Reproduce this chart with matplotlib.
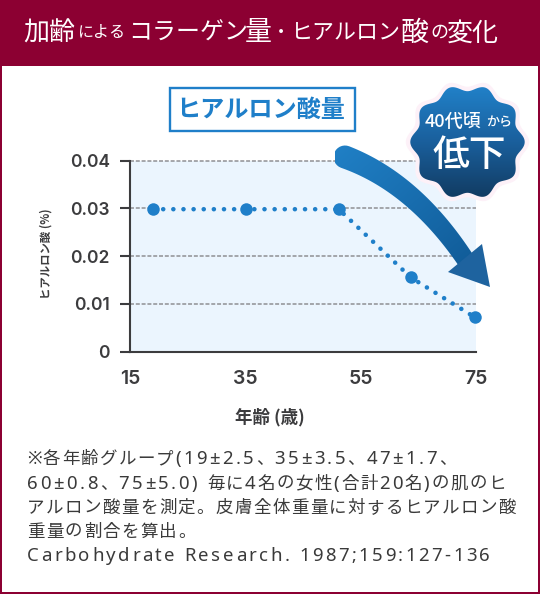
import numpy as np
import matplotlib
matplotlib.use('Agg')
import matplotlib.pyplot as plt
from matplotlib.patches import Polygon, Rectangle
from matplotlib.colors import LinearSegmentedColormap

plt.rcParams['font.family'] = ['Noto Sans CJK JP', 'DejaVu Sans']

# data
ages = [19.0, 35.2, 51.2, 63.7, 74.75]
hyaluronic = [0.0298, 0.0298, 0.0298, 0.0155, 0.0072]
x_ticks = [15, 35, 55, 75]
y_ticks = [0, 0.01, 0.02, 0.03, 0.04]
y_tick_labels = ['0', '0.01', '0.02', '0.03', '0.04']

title_parts = [('加齢', 23, 26), ('による', 77, 16), ('コラーゲン', 128, 24), ('量', 245, 27),
               ('・', 272, 18), ('ヒアルロン', 290, 22), ('酸', 401, 28), ('の', 430, 18), ('変化', 447, 26)]
note_lines = ['※各年齢グループ(19±2.5、35±3.5、47±1.7、',
              '60±0.8、75±5.0) 毎に4名の女性(合計20名)の肌のヒ',
              'アルロン酸量を測定。皮膚全体重量に対するヒアルロン酸',
              '重量の割合を算出。',
              'Carbohydrate Research. 1987;159:127-136']
note_y = [457, 482, 506, 530, 554]

W, H = 540, 594
RED = '#8c0032'
BLUE = '#1f7fc9'
DARK = '#3c3c3e'
GRID = '#8f9094'
GRID_LS = (0, (2.6, 1.2))

fig = plt.figure(figsize=(W / 100, H / 100), dpi=100, facecolor='white')

# main chart, placed in pixels
L, R, T, B = 130, 476, 160.5, 351.5
ax = fig.add_axes([L / W, 1 - B / H, (R - L) / W, (B - T) / H], facecolor='#ebf5fe')
ax.set_xlim(15, 75)
ax.set_ylim(0, 0.04)
for s in ['top', 'right']:
    ax.spines[s].set_visible(False)
for s in ['left', 'bottom']:
    ax.spines[s].set_linewidth(1.5)
    ax.spines[s].set_color(DARK)
ax.set_xticks(x_ticks)
ax.set_yticks(y_ticks)
ax.set_yticklabels(y_tick_labels)
ax.tick_params(axis='y', length=7.5, width=1.5, color=DARK, pad=7, labelcolor=DARK)
ax.tick_params(axis='x', length=0, pad=13, labelcolor=DARK)
for lab in ax.get_yticklabels():
    lab.set_family(['Inter', 'DejaVu Sans'])
    lab.set_fontsize(12.5)
    lab.set_fontweight('semibold')
for lab in ax.get_xticklabels():
    lab.set_family(['Inter', 'DejaVu Sans'])
    lab.set_fontsize(14)
    lab.set_fontweight('semibold')

# the 0.03 line stops where the dotted series runs along it
for tick_y in [0.04, 0.02, 0.01]:
    ax.plot([15, 75], [tick_y, tick_y], color=GRID, lw=1.1, ls=GRID_LS, zorder=1, clip_on=False)
ax.plot([15, ages[0]], [0.03, 0.03], color=GRID, lw=1.1, ls=GRID_LS, zorder=1)
ax.plot([ages[2], 75], [0.03, 0.03], color=GRID, lw=1.1, ls=GRID_LS, zorder=1)

ax.plot(ages, hyaluronic, color=BLUE, lw=3.3, ls=(0, (0.01, 2.2)), dash_capstyle='round', zorder=3, clip_on=False)
ax.plot(ages, hyaluronic, 'o', color=BLUE, ms=9, mew=0, zorder=4, clip_on=False)

# overlay in pixel coordinates for frame, arrow, badge and text
ov = fig.add_axes([0, 0, 1, 1], facecolor='none', zorder=5)
ov.set_xlim(0, W)
ov.set_ylim(H, 0)
ov.axis('off')

ov.add_patch(Rectangle((0, 0), W, 66, color=RED, lw=0))
ov.add_patch(Rectangle((0, 0), 2, H, color=RED, lw=0))
ov.add_patch(Rectangle((W - 2, 0), 2, H, color=RED, lw=0))
ov.add_patch(Rectangle((0, H - 2), W, 2, color=RED, lw=0))

for txt, x, size in title_parts:
    ov.text(x, 33, txt, color='white', fontsize=size * 0.72, ha='left', va='center')

ov.add_patch(Rectangle((169.5, 88), 185, 43, fc='white', ec=BLUE, lw=1.7))
ov.text(261, 109.5, 'ヒアルロン酸量', color=BLUE, fontsize=17.4, fontweight='bold', ha='center', va='center')

ov.text(46, 254, 'ヒアルロン酸 (%)', color=DARK, fontsize=8.2, fontweight='bold', rotation=90, ha='center', va='center')
ov.text(270, 417, '年齢 (歳)', color=DARK, fontsize=12.6, fontweight='bold', ha='center', va='center')


def gradient_fill(patch, colors, extent, diagonal=False):
    # paint a vertical or diagonal gradient and clip it to the patch
    ov.add_patch(patch)
    n = 200
    yy, xx = np.mgrid[0:1:n * 1j, 0:1:n * 1j]
    g = (xx + yy) / 2 if diagonal else yy
    cmap = LinearSegmentedColormap.from_list('g', colors)
    im = ov.imshow(g, cmap=cmap, extent=extent, aspect='auto', zorder=patch.get_zorder())
    im.set_clip_path(patch)
    ov.set_xlim(0, W)
    ov.set_ylim(H, 0)


# curved arrow
t = np.linspace(0, 1, 80)
p0, p1, p2 = np.array([345, 157]), np.array([415, 183]), np.array([467, 262])
curve = np.outer((1 - t) ** 2, p0) + np.outer(2 * t * (1 - t), p1) + np.outer(t ** 2, p2)
tangent = np.gradient(curve, axis=0)
normal = np.c_[-tangent[:, 1], tangent[:, 0]] / np.linalg.norm(tangent, axis=1, keepdims=True)
half = np.linspace(11.5, 9, 80)[:, None]
ang = np.linspace(3 * np.pi / 2, np.pi / 2, 16)
d0 = tangent[0] / np.linalg.norm(tangent[0])
cap = p0 + 11.5 * (np.outer(np.cos(ang), d0) + np.outer(np.sin(ang), normal[0]))
band = np.vstack([curve + normal * half, (curve - normal * half)[::-1], cap])
head = Polygon([[482, 244], [448, 272], [490, 287]], closed=True, fc='#1e639f', lw=0, zorder=7)
gradient_fill(Polygon(band, closed=True, fc='none', lw=0, zorder=6), ['#2080c6', '#105a96'], (335, 480, 270, 145), True)
ov.add_patch(head)

# badge
cx, cy = 467.5, 142
th = np.linspace(0, 2 * np.pi, 400)
rad = 54 + 3.2 * np.cos(10 * th)
halo = np.c_[cx + (rad + 4.5) * np.cos(th), cy + (rad + 4.5) * np.sin(th)]
ov.add_patch(Polygon(halo, closed=True, fc='#fdf1f8', lw=0, zorder=8))
shape = np.c_[cx + rad * np.cos(th), cy + rad * np.sin(th)]
gradient_fill(Polygon(shape, closed=True, fc='none', lw=0, zorder=9), ['#2182ca', '#1a5f9c', '#113a60'],
              (405, 530, 200, 84))
ov.text(425, 122, '40代頃', color='white', fontsize=13, fontweight='medium', ha='left', va='center', zorder=10)
ov.text(486, 123, 'から', color='white', fontsize=9.4, fontweight='medium', ha='left', va='center', zorder=10)
ov.text(469, 155, '低下', color='white', fontsize=26.5, fontweight='medium', ha='center', va='center', zorder=10)

# footnote with tracking, each character placed from its own advance
NOTE_FAMILY = ['Noto Sans', 'Noto Sans CJK JP']
renderer = fig.canvas.get_renderer()
probe_cjk = ov.text(0, 0, '', fontsize=12.6, family=NOTE_FAMILY)
probe_lat = ov.text(0, 0, '', fontsize=13.4, family=NOTE_FAMILY)
prop_cjk = probe_cjk.get_fontproperties()
prop_lat = probe_lat.get_fontproperties()
for line, y in zip(note_lines, note_y):
    x = 27
    for ch in line:
        latin = ch.isascii() or ch == '±'
        size = 13.4 if latin else 12.6
        ov.text(x, y, ch, color='#3a3a3a', fontsize=size, family=NOTE_FAMILY, ha='left', va='center_baseline')
        adv = renderer.get_text_width_height_descent(ch, prop_lat if latin else prop_cjk, False)[0]
        x += adv + (2.45 if latin else 1.35)
probe_cjk.remove()
probe_lat.remove()

fig.savefig('out.png', dpi=100, facecolor='white')
